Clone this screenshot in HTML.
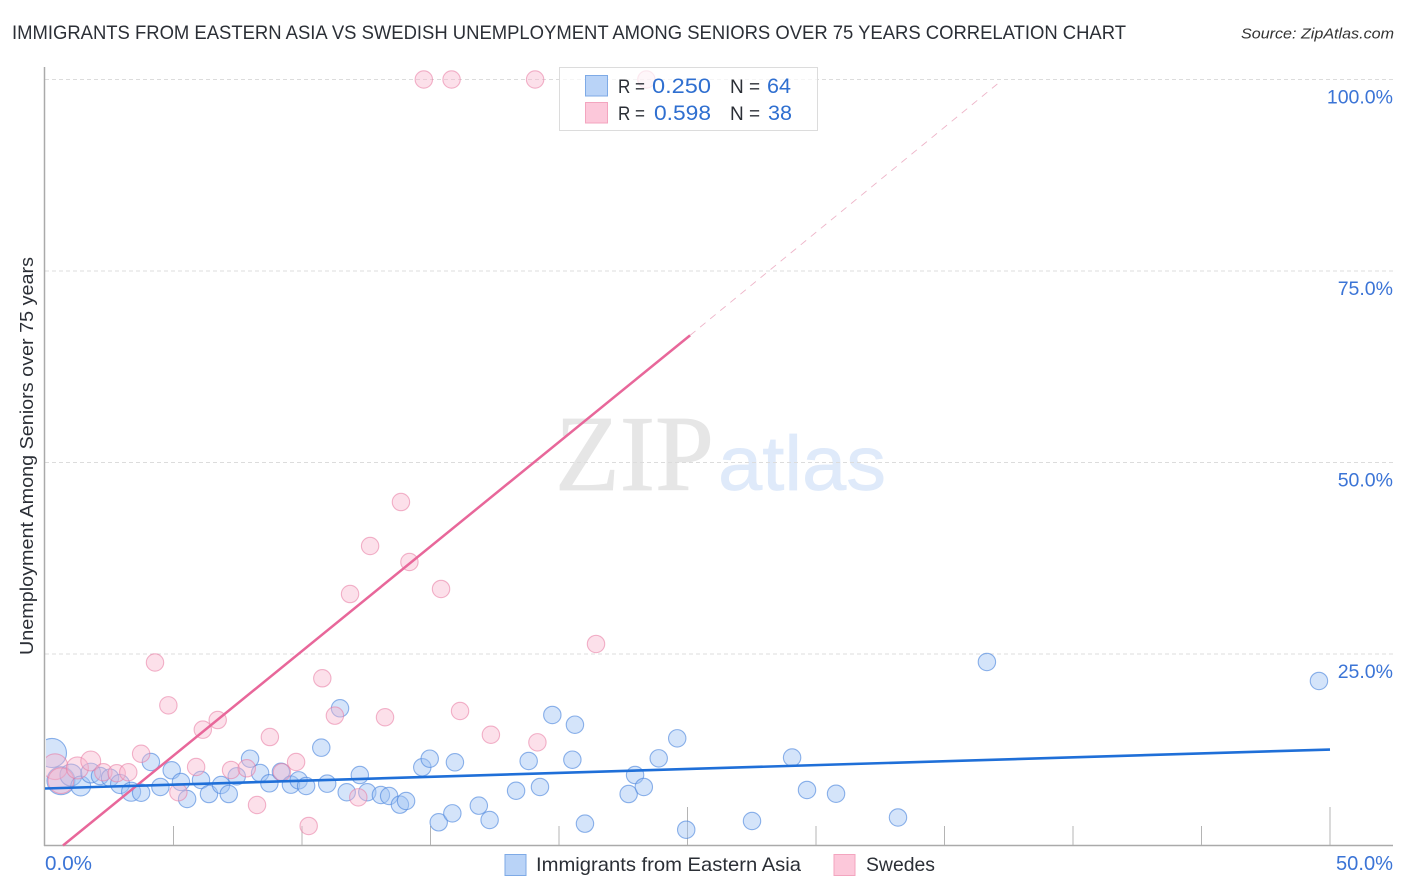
<!DOCTYPE html>
<html lang="en">
<head>
<meta charset="utf-8">
<title>Immigrants from Eastern Asia vs Swedish Unemployment Among Seniors over 75 Years Correlation Chart</title>
<style>
html,body{margin:0;padding:0;background:#fff;width:1406px;height:892px;overflow:hidden}
svg{display:block;font-family:"Liberation Sans",sans-serif}
</style>
</head>
<body>
<svg id="chart" width="1406" height="892" viewBox="0 0 1406 892" xmlns="http://www.w3.org/2000/svg">
  <defs>
    <clipPath id="plot-clip"><rect x="46" y="60" width="1350" height="786"/></clipPath>
  </defs>
  <rect width="1406" height="892" fill="#fff"/>
  <text x="12" y="39" font-size="19" fill="#2b2f36" textLength="1114" lengthAdjust="spacingAndGlyphs">IMMIGRANTS FROM EASTERN ASIA VS SWEDISH UNEMPLOYMENT AMONG SENIORS OVER 75 YEARS CORRELATION CHART</text>
  <text x="1241" y="38.500" font-size="15" font-style="italic" fill="#333" textLength="153" lengthAdjust="spacingAndGlyphs">Source: ZipAtlas.com</text>

  <g>
    <text x="555" y="490" font-family="'Liberation Serif',serif" font-size="108" fill="#e6e6e6" stroke="#e6e6e6" stroke-width="0.8" textLength="159" lengthAdjust="spacingAndGlyphs">ZIP</text>
    <text x="718" y="490" font-size="77" fill="#dfeafa" stroke="#dfeafa" stroke-width="0.7" textLength="168" lengthAdjust="spacingAndGlyphs">atlas</text>
  </g>

  <g id="grid"></g>
  <g id="axes"></g>
  <g id="points" clip-path="url(#plot-clip)"></g>
  <g id="trends"></g>
  <g id="tick-labels"></g>

  <text transform="translate(33,655) rotate(-90)" font-size="18.500" fill="#2b2f36" textLength="398" lengthAdjust="spacingAndGlyphs">Unemployment Among Seniors over 75 years</text>

  <g>
    <rect x="559.500" y="67.500" width="258" height="63" fill="#fff" fill-opacity="0.7" stroke="#dcdcdc" stroke-width="1"/>
    <rect x="585.500" y="75.500" width="22" height="20.500" fill="#b9d3f7" stroke="#7eaae6" stroke-width="1"/>
    <rect x="585.500" y="102.500" width="22" height="20.500" fill="#fcc8da" stroke="#f3a5bf" stroke-width="1"/>
    <text x="618" y="93" font-size="19" fill="#2b2f36" textLength="27" lengthAdjust="spacingAndGlyphs">R =</text>
    <text x="652" y="93" font-size="21" fill="#2f6fd0" textLength="59" lengthAdjust="spacingAndGlyphs">0.250</text>
    <text x="730" y="93" font-size="19" fill="#2b2f36">N =</text>
    <text x="767" y="93" font-size="21" fill="#2f6fd0" textLength="24" lengthAdjust="spacingAndGlyphs">64</text>
    <text x="618" y="120" font-size="19" fill="#2b2f36" textLength="27" lengthAdjust="spacingAndGlyphs">R =</text>
    <text x="654" y="120" font-size="21" fill="#2f6fd0" textLength="57" lengthAdjust="spacingAndGlyphs">0.598</text>
    <text x="730" y="120" font-size="19" fill="#2b2f36">N =</text>
    <text x="768" y="120" font-size="21" fill="#2f6fd0" textLength="24" lengthAdjust="spacingAndGlyphs">38</text>
  </g>

  <g>
    <rect x="505" y="854.500" width="21" height="21" fill="#b9d3f7" stroke="#7eaae6" stroke-width="1"/>
    <text x="536" y="871" font-size="19.500" fill="#2b2f36" textLength="265" lengthAdjust="spacingAndGlyphs">Immigrants from Eastern Asia</text>
    <rect x="834" y="854.500" width="21" height="21" fill="#fcc8da" stroke="#f3a5bf" stroke-width="1"/>
    <text x="866" y="871" font-size="19.500" fill="#2b2f36" textLength="69" lengthAdjust="spacingAndGlyphs">Swedes</text>
  </g>
</svg>
<script>
// Data (percent units)
const yTickValues = [25, 50, 75, 100];
const yTickLabels = ['25.0%', '50.0%', '75.0%', '100.0%'];
const xTickValues = [0, 5, 10, 15, 20, 25, 30, 35, 40, 45, 50];
const xEndLabels = ['0.0%', '50.0%'];

const blueX = [0.27,0.62,1.01,1.39,1.78,2.14,2.53,2.92,3.35,3.74,4.12,4.49,4.93,5.29,5.53,6.07,6.38,6.85,7.15,7.46,7.98,8.37,8.73,9.18,9.57,9.87,10.16,10.75,10.98,11.48,11.74,12.25,12.54,13.07,13.39,13.81,14.05,14.68,14.97,15.32,15.85,15.95,16.88,17.3,18.33,18.82,19.26,19.74,20.62,20.52,21.01,22.71,22.96,23.3,23.88,24.6,24.95,27.51,29.07,29.65,30.78,33.19,36.65,49.57];
const blueY = [12.08,8.46,9.2,7.77,9.46,9.07,8.85,8.03,7.02,6.89,10.9,7.64,9.82,8.29,6.07,8.55,6.72,7.9,6.72,9.03,11.33,9.46,8.12,9.63,7.94,8.51,7.77,12.77,8.07,17.91,6.95,9.2,6.95,6.59,6.46,5.33,5.81,10.21,11.33,3.03,4.2,10.86,5.2,3.33,7.15,11.03,7.64,17.04,15.77,11.2,2.85,6.72,9.2,7.64,11.38,13.99,2.06,3.2,11.49,7.25,6.76,3.66,23.96,21.48];
const blueWeight = [2.8,2.6,1.6,1.3,1.3,1,1,1.2,1.2,1,1,1,1,1,1,1,1,1,1,1,1,1,1,1,1,1,1,1,1,1,1,1,1,1,1,1,1,1,1,1,1,1,1,1,1,1,1,1,1,1,1,1,1,1,1,1,1,1,1,1,1,1,1,1];

const pinkX = [14.74,15.82,19.07,23.4,13.85,12.65,14.18,15.41,11.87,21.44,4.28,10.79,4.8,6.72,6.14,8.75,3.74,11.28,9.77,7.24,7.85,9.22,5.88,5.19,8.25,10.26,0.39,0.62,1.26,1.78,2.27,2.79,3.24,13.23,16.15,17.35,19.16,12.19];
const pinkY = [100,100,100,100,44.84,39.1,37.01,33.49,32.83,26.31,23.89,21.83,18.3,16.38,15.12,14.16,11.98,16.95,10.9,9.86,10.08,9.56,10.25,6.95,5.29,2.55,10.29,8.46,10.12,11.03,9.56,9.43,9.56,16.74,17.56,14.46,13.47,6.29];
const pinkWeight = [1,1,1,1,1,1,1,1,1,1,1,1,1,1,1,1,1,1,1,1,1,1,1,1,1,1,2.2,2.2,1.6,1.3,1,1,1,1,1,1,1,1];

const blueTrendX = [0, 50];
const blueTrendY = [7.44, 12.53];
const pinkTrendX = [0.7, 25.1];
const pinkTrendY = [0, 66.6];
const pinkExtensionX = [25.1, 37.16];
const pinkExtensionY = [66.6, 99.7];

const xScale = v => 45 + v * 25.7;
const yScale = v => 845.5 - v * 7.66;
const rScale = w => 8.7 * Math.sqrt(w);
const NS = 'http://www.w3.org/2000/svg';

const grid = document.getElementById('grid');
const axes = document.getElementById('axes');
const pointsG = document.getElementById('points');
const trends = document.getElementById('trends');
const labels = document.getElementById('tick-labels');

yTickValues.forEach((v, i) => {
  const gl = document.createElementNS(NS, 'line');
  
  
  gl.setAttribute('x1', 45);
  gl.setAttribute('x2', 1393);
  gl.setAttribute('y1', yScale(v));
  gl.setAttribute('y2', yScale(v));
  gl.setAttribute('stroke', '#dcdcdc');
  gl.setAttribute('stroke-width', 1);
  gl.setAttribute('stroke-dasharray', '4 3');
  grid.appendChild(gl);

  const t = document.createElementNS(NS, 'text');
  
  
  t.setAttribute('x', 1393);
  t.setAttribute('y', yScale(v) + 24);
  t.setAttribute('text-anchor', 'end');
  t.setAttribute('font-size', 19.5);
  t.setAttribute('fill', '#3b74d6');
  t.textContent = yTickLabels[i];
  labels.appendChild(t);
});

const yAxis = document.createElementNS(NS, 'line');


yAxis.setAttribute('x1', 44.5);
yAxis.setAttribute('x2', 44.5);
yAxis.setAttribute('y1', 67);
yAxis.setAttribute('y2', 846);
yAxis.setAttribute('stroke', '#aaa');
yAxis.setAttribute('stroke-width', 1.5);
axes.appendChild(yAxis);

const xAxis = document.createElementNS(NS, 'line');


xAxis.setAttribute('x1', 44);
xAxis.setAttribute('x2', 1393);
xAxis.setAttribute('y1', 845.5);
xAxis.setAttribute('y2', 845.5);
xAxis.setAttribute('stroke', '#aaa');
xAxis.setAttribute('stroke-width', 1.5);
axes.appendChild(xAxis);

xTickValues.forEach(v => {
  if (v === 0) return;
  const tick = document.createElementNS(NS, 'line');
  
  
  const major = v % 25 === 0;
  tick.setAttribute('x1', xScale(v));
  tick.setAttribute('x2', xScale(v));
  tick.setAttribute('y1', major ? 807 : 826);
  tick.setAttribute('y2', 845);
  tick.setAttribute('stroke', '#b4b4b4');
  tick.setAttribute('stroke-width', 1);
  axes.appendChild(tick);
});

const x0Label = document.createElementNS(NS, 'text');


x0Label.setAttribute('x', 45);
x0Label.setAttribute('y', 870);
x0Label.setAttribute('font-size', 20);
x0Label.setAttribute('fill', '#3b74d6');
x0Label.setAttribute('textLength', 47);
x0Label.setAttribute('lengthAdjust', 'spacingAndGlyphs');
x0Label.textContent = xEndLabels[0];
labels.appendChild(x0Label);

const x1Label = document.createElementNS(NS, 'text');


x1Label.setAttribute('x', 1336);
x1Label.setAttribute('y', 870);
x1Label.setAttribute('font-size', 20);
x1Label.setAttribute('fill', '#3b74d6');
x1Label.setAttribute('textLength', 57);
x1Label.setAttribute('lengthAdjust', 'spacingAndGlyphs');
x1Label.textContent = xEndLabels[1];
labels.appendChild(x1Label);

blueX.forEach((v, i) => {
  const c = document.createElementNS(NS, 'circle');
  
  
  c.setAttribute('cx', xScale(v));
  c.setAttribute('cy', yScale(blueY[i]));
  c.setAttribute('r', rScale(blueWeight[i]));
  c.setAttribute('fill', 'rgba(160,196,244,0.45)');
  c.setAttribute('stroke', 'rgba(70,130,220,0.6)');
  c.setAttribute('stroke-width', 1.1);
  pointsG.appendChild(c);
});

pinkX.forEach((v, i) => {
  const c = document.createElementNS(NS, 'circle');
  
  
  c.setAttribute('cx', xScale(v));
  c.setAttribute('cy', yScale(pinkY[i]));
  c.setAttribute('r', rScale(pinkWeight[i]));
  c.setAttribute('fill', 'rgba(248,180,204,0.42)');
  c.setAttribute('stroke', 'rgba(232,120,160,0.55)');
  c.setAttribute('stroke-width', 1.1);
  pointsG.appendChild(c);
});

const pinkExt = document.createElementNS(NS, 'line');


pinkExt.setAttribute('x1', xScale(pinkExtensionX[0]));
pinkExt.setAttribute('y1', yScale(pinkExtensionY[0]));
pinkExt.setAttribute('x2', xScale(pinkExtensionX[1]));
pinkExt.setAttribute('y2', yScale(pinkExtensionY[1]));
pinkExt.setAttribute('stroke', '#eeb4c8');
pinkExt.setAttribute('stroke-width', 0.9);
pinkExt.setAttribute('stroke-dasharray', '7 6');
trends.appendChild(pinkExt);

const pinkLine = document.createElementNS(NS, 'line');


pinkLine.setAttribute('x1', xScale(pinkTrendX[0]));
pinkLine.setAttribute('y1', yScale(pinkTrendY[0]));
pinkLine.setAttribute('x2', xScale(pinkTrendX[1]));
pinkLine.setAttribute('y2', yScale(pinkTrendY[1]));
pinkLine.setAttribute('stroke', '#e8679a');
pinkLine.setAttribute('stroke-width', 2.5);
trends.appendChild(pinkLine);

const blueLine = document.createElementNS(NS, 'line');


blueLine.setAttribute('x1', xScale(blueTrendX[0]));
blueLine.setAttribute('y1', yScale(blueTrendY[0]));
blueLine.setAttribute('x2', xScale(blueTrendX[1]));
blueLine.setAttribute('y2', yScale(blueTrendY[1]));
blueLine.setAttribute('stroke', '#1f6fd8');
blueLine.setAttribute('stroke-width', 2.6);
trends.appendChild(blueLine);
</script>
</body>
</html>
